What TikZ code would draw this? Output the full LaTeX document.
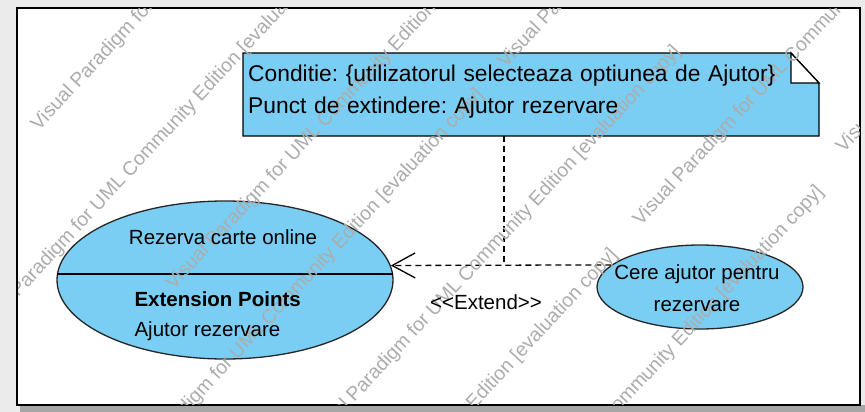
\documentclass[tikz,border=0pt]{standalone}
\usepackage{fontspec}
\setmainfont{Liberation Sans}
\usetikzlibrary{arrows.meta,shapes.geometric}
\definecolor{ucblue}{RGB}{122,206,243}
\definecolor{wmgray}{RGB}{172,172,172}
\frenchspacing
\begin{document}
\begin{tikzpicture}[x=1pt,y=-1pt,font=\fontsize{20.5}{24}\selectfont,
  usecase/.style={ellipse,draw=black!85,line width=1.3pt,fill=ucblue,inner sep=0pt},
  extline/.style={dash pattern=on 6pt off 4pt,line width=1.3pt},
  watermark/.style={rotate=47,anchor=west,inner sep=0pt,text=wmgray,font=\fontsize{19.5}{20}\selectfont}]
\useasboundingbox (0,0) rectangle (865,412);
\fill[black!8] (0,0) rectangle (865,412);
\fill[black!35] (20,405) rectangle (865,412);
\draw[line width=2pt,fill=white] (17,8) rectangle (860,405);

% note with folded corner
\draw[line width=1.3pt,fill=ucblue] (243,53) -- (791,53) -- (819,83) -- (819,136) -- (243,136) -- cycle;
\draw[line width=1.3pt,fill=white] (791,53) -- (791,83) -- (819,83) -- cycle;
\node[minimum width=576pt,minimum height=83pt,inner sep=0pt] (noteCond) at (531,94.5) {};

% use cases
\node[usecase,minimum width=336pt,minimum height=158pt] (ucRezerva) at (225,280) {};
\draw[line width=1.8pt] (ucRezerva.178) -- (ucRezerva.2);
\node[usecase,minimum width=206pt,minimum height=84pt] (ucCere) at (700,287) {};

% extend relation
\coordinate (extJoin) at (504,265);
\draw[extline] (noteCond.south -| extJoin) -- (extJoin);
\draw[extline,-{Straight Barb[length=23pt,width=25pt]}] (ucCere.166) -- (ucRezerva.5);

% evaluation watermark
\begin{scope}
\clip (18,9) rectangle (859,404);
\foreach \wx/\wy [count=\i] in {35/128,-25/337,170/287,114/485,311/442,248/645,454/582,502/65,637/223,840/150}
  \node[watermark] (wm\i) at (\wx,\wy) {Visual Paradigm for UML Community Edition [evaluation copy]};
\end{scope}

% labels
\node[text width=566pt,inner sep=0pt,align=left,font=\fontsize{22.8}{32}\selectfont,anchor=north west]
  (noteText) at (248,65) {Conditie: \{utilizatorul selecteaza optiunea de Ajutor\}\\Punct de extindere: Ajutor rezervare};
\node (lblRezerva) at (223,237) {Rezerva carte online};
\node[anchor=west] (lblPoints) at (131,299) {\textbf{Extension Points}};
\node[anchor=west] (lblAjutor) at (131,331) {Ajutor rezervare};
\node[align=center,font=\fontsize{20.5}{32}\selectfont] (lblCere) at (697,288) {Cere ajutor pentru\\rezervare};
\node (lblExtend) at (486,302) {<\kern0pt<Extend>\kern0pt>};
\end{tikzpicture}
\end{document}
